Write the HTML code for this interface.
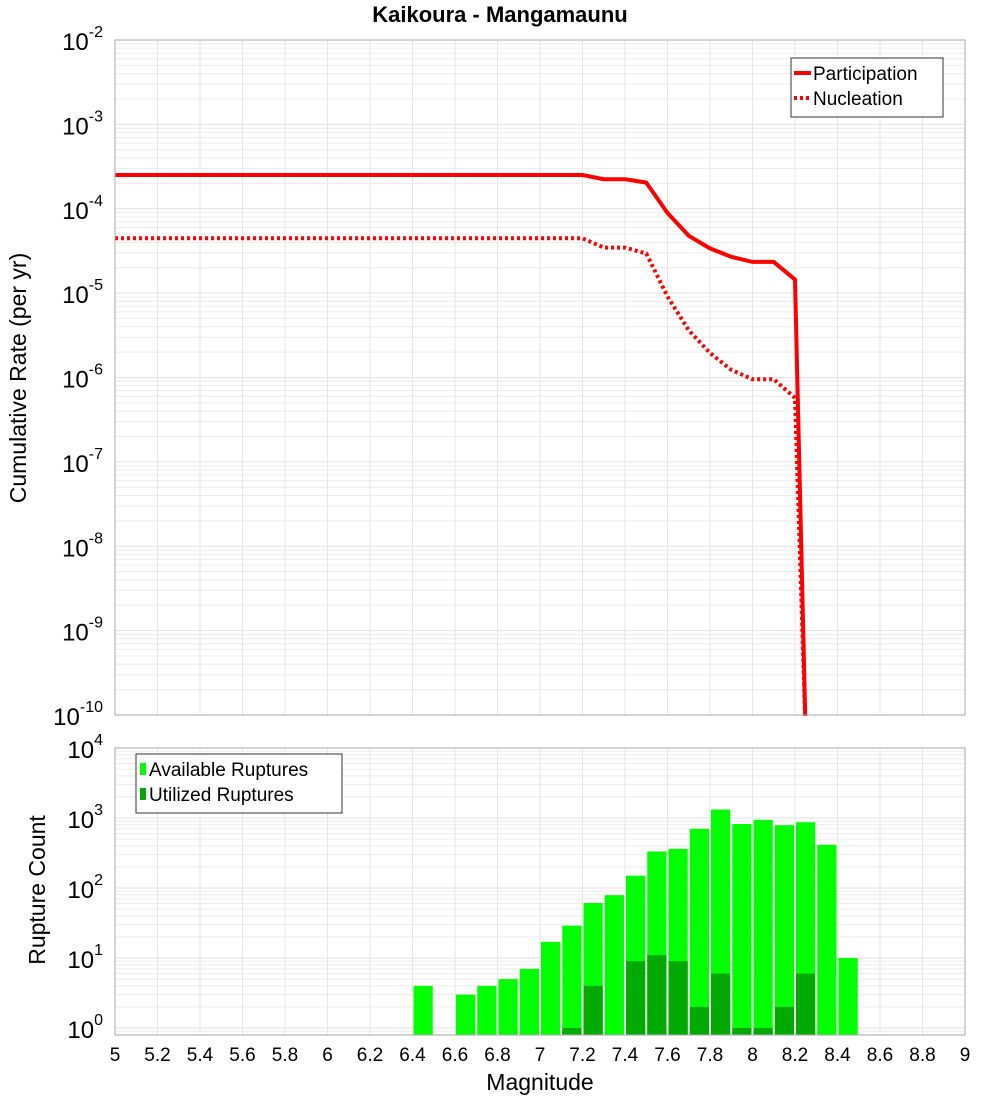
<!DOCTYPE html>
<html><head><meta charset="utf-8"><style>body{margin:0;background:#fff}svg{display:block;font-family:"Liberation Sans","DejaVu Sans",sans-serif}</style></head>
<body>
<svg id="chart" width="1000" height="1100" xmlns="http://www.w3.org/2000/svg">
<text x="500" y="22" text-anchor="middle" font-size="22" font-weight="bold">Kaikoura - Mangamaunu</text>
<g id="topPlot"></g>
<g id="botPlot"></g>
<text transform="translate(26,378) rotate(-90)" text-anchor="middle" font-size="23">Cumulative Rate (per yr)</text>
<text transform="translate(45,890) rotate(-90)" text-anchor="middle" font-size="23">Rupture Count</text>
<text x="540" y="1090" text-anchor="middle" font-size="23">Magnitude</text>
</svg>
<script>
const partMag=[5,7.2,7.3,7.4,7.5,7.6,7.7,7.8,7.9,8.0,8.1,8.2,8.25];
const partLog=[-3.6,-3.6,-3.65,-3.65,-3.69,-4.05,-4.32,-4.47,-4.57,-4.63,-4.63,-4.84,-11];
const nuclMag=[5,7.2,7.3,7.4,7.5,7.6,7.7,7.8,7.9,8.0,8.1,8.2,8.25];
const nuclLog=[-4.35,-4.35,-4.46,-4.46,-4.53,-5.04,-5.44,-5.71,-5.91,-6.02,-6.02,-6.24,-11];
const binMag=[6.45,6.55,6.65,6.75,6.85,6.95,7.05,7.15,7.25,7.35,7.45,7.55,7.65,7.75,7.85,7.95,8.05,8.15,8.25,8.35,8.45];
const available=[4,0,3,4,5,7,17,29,61,79,150,333,363,700,1320,820,940,790,870,415,10];
const utilized=[0,0,0,0,0,0,0,1,4,0,9,11,9,2,6,1,1,2,6,0,0];
const xTicks=["5","5.2","5.4","5.6","5.8","6","6.2","6.4","6.6","6.8","7","7.2","7.4","7.6","7.8","8","8.2","8.4","8.6","8.8","9"];
const topExp=[-2,-3,-4,-5,-6,-7,-8,-9,-10];
const botExp=[4,3,2,1,0];

const NS="http://www.w3.org/2000/svg";
const X0=115,X1=965;
const xs=m=>X0+(m-5)/4*(X1-X0);
const T0=40,T1=715;const ty=l=>T0+(-2-l)*(T1-T0)/8;
const B0=748,BD=70,B1=1035;const by=l=>B0+(4-l)*BD;
function el(p,tag,a){const e=document.createElementNS(NS,tag);for(const k in a)e.setAttribute(k,a[k]);p.appendChild(e);return e;}
const topG=document.getElementById('topPlot'),botG=document.getElementById('botPlot');

function supLabel(g,x,y,e,name){
  const t=el(g,'text',{x:x,y:y,'text-anchor':'end','font-size':24});
  
  
  const a=el(t,'tspan',{});a.textContent='10';
  const b=el(t,'tspan',{dy:-13,'font-size':16});b.textContent=String(e);
}

function grid(g,y0,y1,dec,yf){
  for(const d of dec){for(let k=1;k<10;k++){const y=yf(d+Math.log10(k));if(y<y0-0.5||y>y1+0.5)continue;
    const l=el(g,'line',{x1:X0,x2:X1,y1:y,y2:y,stroke:k==1?'#e2e2e2':'#ececec','stroke-width':1});
    
    }}
  xTicks.forEach(t=>{const x=xs(+t);const l=el(g,'line',{x1:x,x2:x,y1:y0,y2:y1,stroke:'#e6e6e6'});
    
    });
}
grid(topG,T0,T1,[-10,-9,-8,-7,-6,-5,-4,-3,-2],ty);
grid(botG,B0,B1,[-1,0,1,2,3],by);

function line(mag,lg,dash,name){
  const pts=mag.map((m,i)=>xs(m).toFixed(1)+','+ty(Math.max(lg[i],-10.2)).toFixed(1)).join(' ');
  const p=el(topG,'polyline',{points:pts,fill:'none',stroke:'#ff0000','stroke-width':4,'stroke-dasharray':dash});
  
  
}
line(nuclMag,nuclLog,'3,3','nucleation-line');
line(partMag,partLog,'none','participation-line');
el(topG,'rect',{x:X0,y:T1+1,width:X1-X0,height:28,fill:'#fff'});
const cl=el(topG,'rect',{x:X0,y:T0,width:X1-X0,height:T1-T0,fill:'none',stroke:'#aaa'});



topExp.forEach(e=>supLabel(topG,103,ty(e)+10,e,'y-tick-label-rate'));

binMag.forEach((m,i)=>{
  const x=xs(m-0.05)+1,w=xs(m+0.05)-xs(m-0.05)-2;
  if(available[i]>0){const y=by(Math.log10(available[i]));
    const r=el(botG,'rect',{x:x,y:y,width:w,height:B1-y,fill:'#00ff00'});
    
    }
  if(utilized[i]>0){const y=by(Math.log10(utilized[i]));
    const r=el(botG,'rect',{x:x,y:y,width:w,height:B1-y,fill:'#00aa00'});
    
    }
});
const bf=el(botG,'rect',{x:X0,y:B0,width:X1-X0,height:B1-B0,fill:'none',stroke:'#aaa'});


botExp.forEach(e=>supLabel(botG,103,by(e)+10,e,'y-tick-label-count'));
xTicks.forEach(s=>{const t=el(botG,'text',{x:xs(+s),y:1061,'text-anchor':'middle','font-size':19});
  
  
  t.textContent=s;});

function legend(g,x,y,w,h,items,name){
  const lg=el(g,'g',{});
  
  
  el(lg,'rect',{x:x,y:y,width:w,height:h,fill:'#fff',stroke:'#333'});
  items.forEach((it,i)=>{const yy=y+15+i*25;
    if(it.type=='line')el(lg,'line',{x1:x+3,x2:x+20,y1:yy,y2:yy,stroke:'#f00','stroke-width':4,'stroke-dasharray':it.dash});
    else el(lg,'rect',{x:x+4,y:yy-6,width:6,height:12,fill:it.color});
    const t=el(lg,'text',{x:x+(it.type=='line'?22:13),y:yy+7,'font-size':19});
    
    
    t.textContent=it.label;});
}
legend(topG,791,58,152,59,[{type:'line',dash:'none',label:'Participation'},{type:'line',dash:'3,3',label:'Nucleation'}],'rate-legend');
legend(botG,136,754,206,59,[{type:'rect',color:'#00ff00',label:'Available Ruptures'},{type:'rect',color:'#00aa00',label:'Utilized Ruptures'}],'count-legend');
</script>
</body></html>
